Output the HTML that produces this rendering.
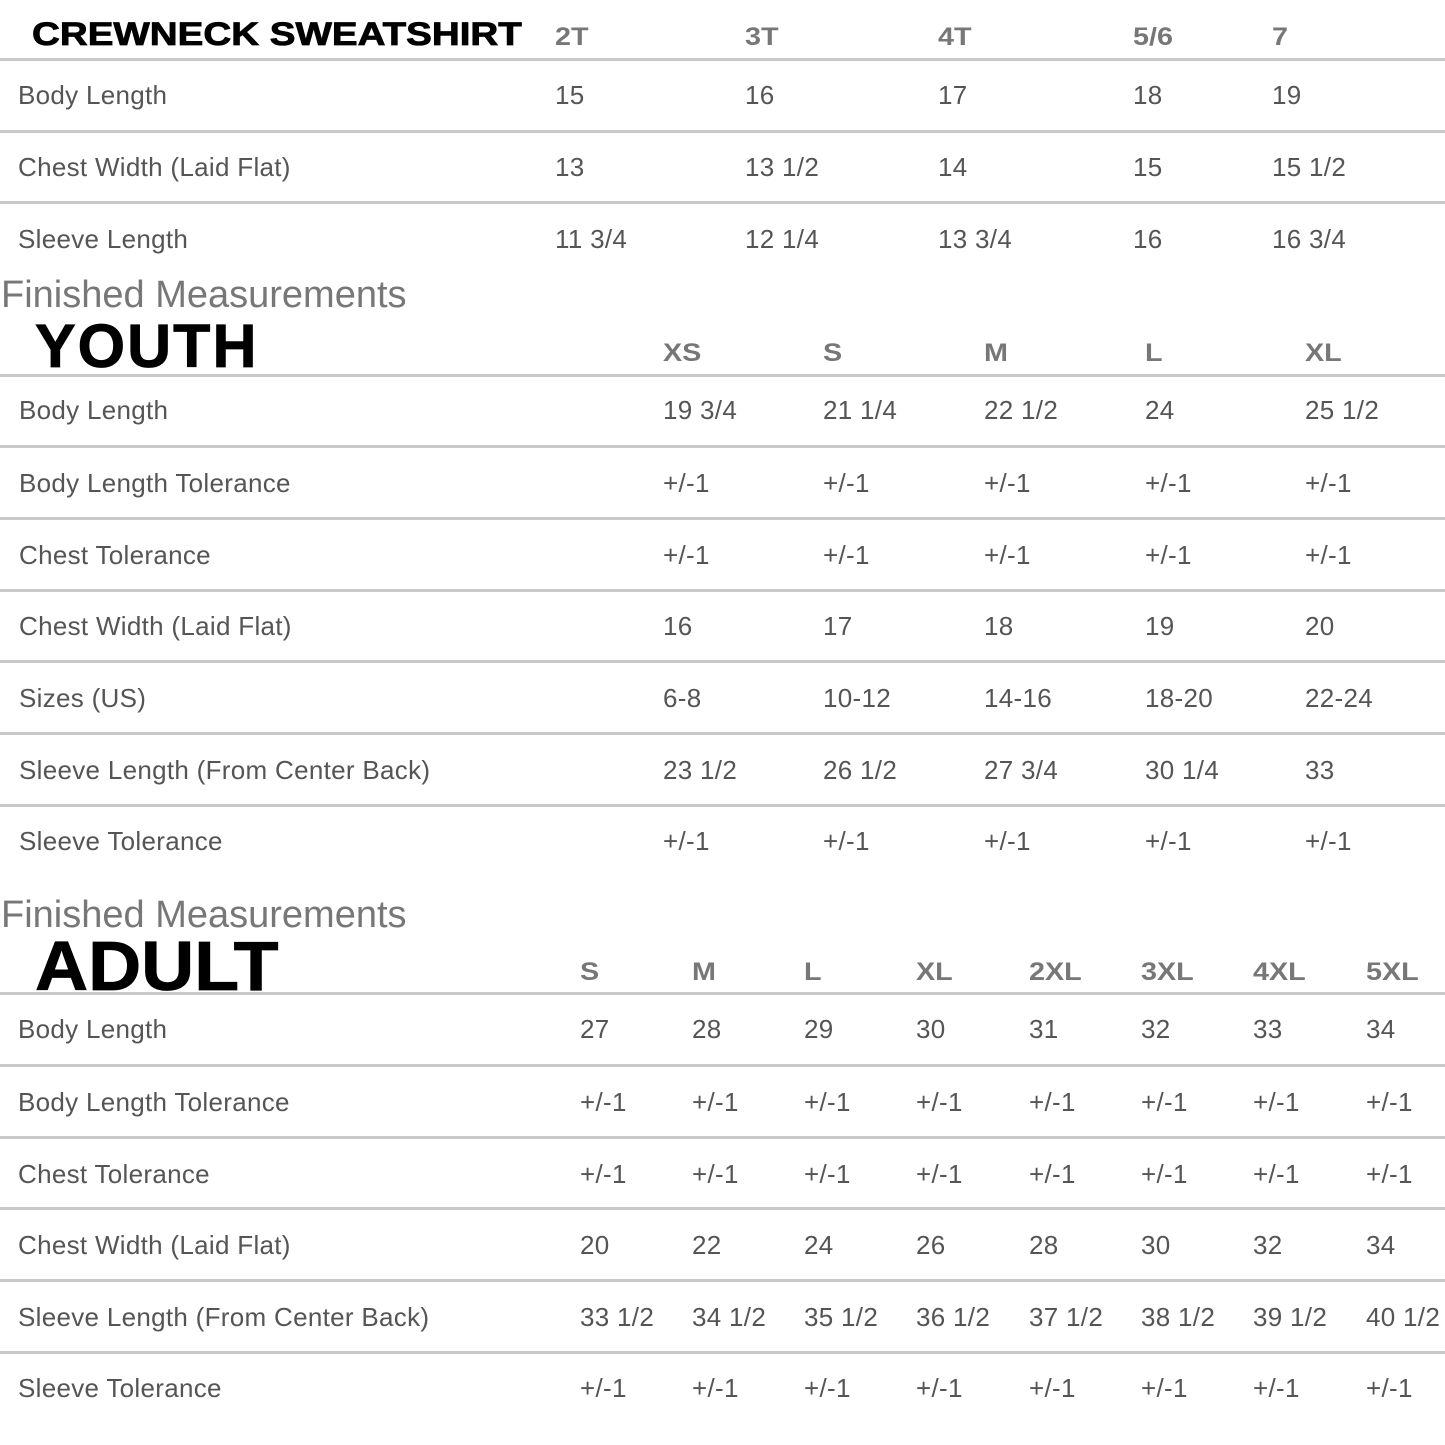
<!DOCTYPE html>
<html><head><meta charset="utf-8">
<style>
html,body{margin:0;padding:0;background:#fff;}
body{width:1445px;height:1445px;position:relative;overflow:hidden;font-family:"Liberation Sans",Arial,sans-serif;}
.l{position:absolute;left:0;width:1445px;height:3px;background:#c9c9c9;}
.t{position:absolute;white-space:nowrap;font-size:26px;line-height:26px;color:#555;letter-spacing:0.3px;}
.h{position:absolute;white-space:nowrap;font-size:25px;line-height:25px;color:#777;font-weight:bold;transform:scaleX(1.15);transform-origin:0 0;}
.fm{position:absolute;white-space:nowrap;font-size:38px;line-height:38px;color:#777;left:1px;}
.big{position:absolute;white-space:nowrap;font-weight:bold;color:#000;-webkit-text-stroke:0.8px #000;}
</style></head><body>

<!-- CREWNECK section -->
<div class="big" style="left:32px;top:18px;font-size:32px;line-height:32px;transform:scaleX(1.205);transform-origin:0 0;">CREWNECK SWEATSHIRT</div>
<div class="h" style="left:555px;top:25px">2T</div>
<div class="h" style="left:745px;top:25px">3T</div>
<div class="h" style="left:938px;top:25px">4T</div>
<div class="h" style="left:1133px;top:25px">5/6</div>
<div class="h" style="left:1272px;top:25px">7</div>
<div class="l" style="top:58px"></div>

<div class="t" style="left:18px;top:82px">Body Length</div>
<div class="t" style="left:555px;top:82px">15</div>
<div class="t" style="left:745px;top:82px">16</div>
<div class="t" style="left:938px;top:82px">17</div>
<div class="t" style="left:1133px;top:82px">18</div>
<div class="t" style="left:1272px;top:82px">19</div>
<div class="l" style="top:130px"></div>

<div class="t" style="left:18px;top:154px">Chest Width (Laid Flat)</div>
<div class="t" style="left:555px;top:154px">13</div>
<div class="t" style="left:745px;top:154px">13 1/2</div>
<div class="t" style="left:938px;top:154px">14</div>
<div class="t" style="left:1133px;top:154px">15</div>
<div class="t" style="left:1272px;top:154px">15 1/2</div>
<div class="l" style="top:201px"></div>

<div class="t" style="left:18px;top:226px">Sleeve Length</div>
<div class="t" style="left:555px;top:226px">11 3/4</div>
<div class="t" style="left:745px;top:226px">12 1/4</div>
<div class="t" style="left:938px;top:226px">13 3/4</div>
<div class="t" style="left:1133px;top:226px">16</div>
<div class="t" style="left:1272px;top:226px">16 3/4</div>

<!-- YOUTH section -->
<div class="fm" style="top:276px">Finished Measurements</div>
<div class="big" style="left:35px;top:316px;font-size:61px;line-height:61px;letter-spacing:2px;">YOUTH</div>
<div class="h" style="left:663px;top:341px">XS</div>
<div class="h" style="left:823px;top:341px">S</div>
<div class="h" style="left:984px;top:341px">M</div>
<div class="h" style="left:1145px;top:341px">L</div>
<div class="h" style="left:1305px;top:341px">XL</div>
<div class="l" style="top:374px"></div>

<div class="t" style="left:19px;top:397px">Body Length</div>
<div class="t" style="left:663px;top:397px">19 3/4</div>
<div class="t" style="left:823px;top:397px">21 1/4</div>
<div class="t" style="left:984px;top:397px">22 1/2</div>
<div class="t" style="left:1145px;top:397px">24</div>
<div class="t" style="left:1305px;top:397px">25 1/2</div>
<div class="l" style="top:445px"></div>

<div class="t" style="left:19px;top:470px">Body Length Tolerance</div>
<div class="t" style="left:663px;top:470px">+/-1</div>
<div class="t" style="left:823px;top:470px">+/-1</div>
<div class="t" style="left:984px;top:470px">+/-1</div>
<div class="t" style="left:1145px;top:470px">+/-1</div>
<div class="t" style="left:1305px;top:470px">+/-1</div>
<div class="l" style="top:517px"></div>

<div class="t" style="left:19px;top:542px">Chest Tolerance</div>
<div class="t" style="left:663px;top:542px">+/-1</div>
<div class="t" style="left:823px;top:542px">+/-1</div>
<div class="t" style="left:984px;top:542px">+/-1</div>
<div class="t" style="left:1145px;top:542px">+/-1</div>
<div class="t" style="left:1305px;top:542px">+/-1</div>
<div class="l" style="top:589px"></div>

<div class="t" style="left:19px;top:613px">Chest Width (Laid Flat)</div>
<div class="t" style="left:663px;top:613px">16</div>
<div class="t" style="left:823px;top:613px">17</div>
<div class="t" style="left:984px;top:613px">18</div>
<div class="t" style="left:1145px;top:613px">19</div>
<div class="t" style="left:1305px;top:613px">20</div>
<div class="l" style="top:660px"></div>

<div class="t" style="left:19px;top:685px">Sizes (US)</div>
<div class="t" style="left:663px;top:685px">6-8</div>
<div class="t" style="left:823px;top:685px">10-12</div>
<div class="t" style="left:984px;top:685px">14-16</div>
<div class="t" style="left:1145px;top:685px">18-20</div>
<div class="t" style="left:1305px;top:685px">22-24</div>
<div class="l" style="top:732px"></div>

<div class="t" style="left:19px;top:757px">Sleeve Length (From Center Back)</div>
<div class="t" style="left:663px;top:757px">23 1/2</div>
<div class="t" style="left:823px;top:757px">26 1/2</div>
<div class="t" style="left:984px;top:757px">27 3/4</div>
<div class="t" style="left:1145px;top:757px">30 1/4</div>
<div class="t" style="left:1305px;top:757px">33</div>
<div class="l" style="top:804px"></div>

<div class="t" style="left:19px;top:828px">Sleeve Tolerance</div>
<div class="t" style="left:663px;top:828px">+/-1</div>
<div class="t" style="left:823px;top:828px">+/-1</div>
<div class="t" style="left:984px;top:828px">+/-1</div>
<div class="t" style="left:1145px;top:828px">+/-1</div>
<div class="t" style="left:1305px;top:828px">+/-1</div>

<!-- ADULT section -->
<div class="fm" style="top:896px">Finished Measurements</div>
<div class="big" style="left:35px;top:931px;font-size:70px;line-height:70px;transform:scaleX(1.05);transform-origin:0 0;">ADULT</div>
<div class="h" style="left:580px;top:960px">S</div>
<div class="h" style="left:692px;top:960px">M</div>
<div class="h" style="left:804px;top:960px">L</div>
<div class="h" style="left:916px;top:960px">XL</div>
<div class="h" style="left:1029px;top:960px">2XL</div>
<div class="h" style="left:1141px;top:960px">3XL</div>
<div class="h" style="left:1253px;top:960px">4XL</div>
<div class="h" style="left:1366px;top:960px">5XL</div>
<div class="l" style="top:992px"></div>

<div class="t" style="left:18px;top:1016px">Body Length</div>
<div class="t" style="left:580px;top:1016px">27</div>
<div class="t" style="left:692px;top:1016px">28</div>
<div class="t" style="left:804px;top:1016px">29</div>
<div class="t" style="left:916px;top:1016px">30</div>
<div class="t" style="left:1029px;top:1016px">31</div>
<div class="t" style="left:1141px;top:1016px">32</div>
<div class="t" style="left:1253px;top:1016px">33</div>
<div class="t" style="left:1366px;top:1016px">34</div>
<div class="l" style="top:1064px"></div>

<div class="t" style="left:18px;top:1089px">Body Length Tolerance</div>
<div class="t" style="left:580px;top:1089px">+/-1</div>
<div class="t" style="left:692px;top:1089px">+/-1</div>
<div class="t" style="left:804px;top:1089px">+/-1</div>
<div class="t" style="left:916px;top:1089px">+/-1</div>
<div class="t" style="left:1029px;top:1089px">+/-1</div>
<div class="t" style="left:1141px;top:1089px">+/-1</div>
<div class="t" style="left:1253px;top:1089px">+/-1</div>
<div class="t" style="left:1366px;top:1089px">+/-1</div>
<div class="l" style="top:1136px"></div>

<div class="t" style="left:18px;top:1161px">Chest Tolerance</div>
<div class="t" style="left:580px;top:1161px">+/-1</div>
<div class="t" style="left:692px;top:1161px">+/-1</div>
<div class="t" style="left:804px;top:1161px">+/-1</div>
<div class="t" style="left:916px;top:1161px">+/-1</div>
<div class="t" style="left:1029px;top:1161px">+/-1</div>
<div class="t" style="left:1141px;top:1161px">+/-1</div>
<div class="t" style="left:1253px;top:1161px">+/-1</div>
<div class="t" style="left:1366px;top:1161px">+/-1</div>
<div class="l" style="top:1207px"></div>

<div class="t" style="left:18px;top:1232px">Chest Width (Laid Flat)</div>
<div class="t" style="left:580px;top:1232px">20</div>
<div class="t" style="left:692px;top:1232px">22</div>
<div class="t" style="left:804px;top:1232px">24</div>
<div class="t" style="left:916px;top:1232px">26</div>
<div class="t" style="left:1029px;top:1232px">28</div>
<div class="t" style="left:1141px;top:1232px">30</div>
<div class="t" style="left:1253px;top:1232px">32</div>
<div class="t" style="left:1366px;top:1232px">34</div>
<div class="l" style="top:1279px"></div>

<div class="t" style="left:18px;top:1304px">Sleeve Length (From Center Back)</div>
<div class="t" style="left:580px;top:1304px">33 1/2</div>
<div class="t" style="left:692px;top:1304px">34 1/2</div>
<div class="t" style="left:804px;top:1304px">35 1/2</div>
<div class="t" style="left:916px;top:1304px">36 1/2</div>
<div class="t" style="left:1029px;top:1304px">37 1/2</div>
<div class="t" style="left:1141px;top:1304px">38 1/2</div>
<div class="t" style="left:1253px;top:1304px">39 1/2</div>
<div class="t" style="left:1366px;top:1304px">40 1/2</div>
<div class="l" style="top:1351px"></div>

<div class="t" style="left:18px;top:1375px">Sleeve Tolerance</div>
<div class="t" style="left:580px;top:1375px">+/-1</div>
<div class="t" style="left:692px;top:1375px">+/-1</div>
<div class="t" style="left:804px;top:1375px">+/-1</div>
<div class="t" style="left:916px;top:1375px">+/-1</div>
<div class="t" style="left:1029px;top:1375px">+/-1</div>
<div class="t" style="left:1141px;top:1375px">+/-1</div>
<div class="t" style="left:1253px;top:1375px">+/-1</div>
<div class="t" style="left:1366px;top:1375px">+/-1</div>

</body></html>
